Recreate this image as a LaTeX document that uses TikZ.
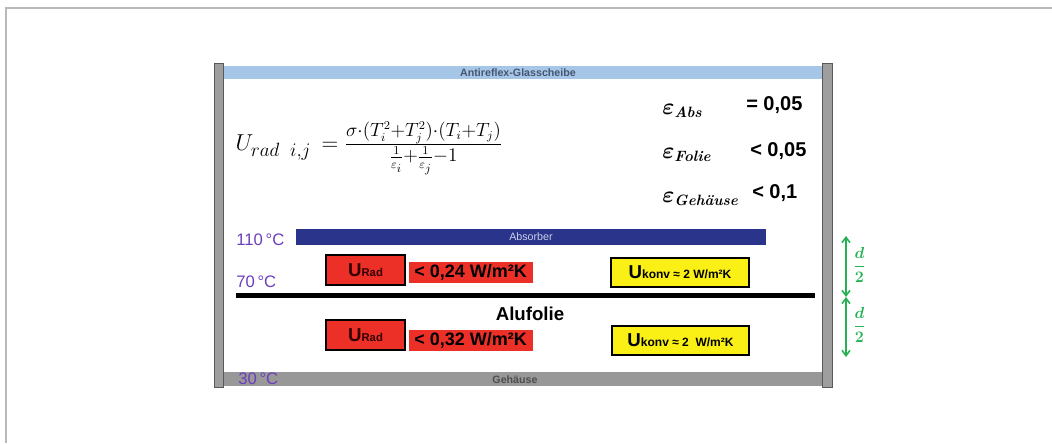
\documentclass[tikz,border=0pt]{standalone}
\usepackage{amsmath,amssymb,bm}
\usepackage{fontspec}
\newfontfamily\arial{Liberation Sans}
\usetikzlibrary{positioning,arrows.meta}

\definecolor{framegray}{RGB}{185,185,185}
\definecolor{glassblue}{RGB}{165,198,230}
\definecolor{glasstext}{RGB}{70,86,112}
\definecolor{absblue}{RGB}{42,52,138}
\definecolor{abstext}{RGB}{205,208,235}
\definecolor{housegray}{RGB}{152,152,152}
\definecolor{housetext}{RGB}{78,78,78}
\definecolor{tempviolet}{RGB}{108,62,188}
\definecolor{uradred}{RGB}{236,48,40}
\definecolor{ukonvyellow}{RGB}{250,240,22}
\definecolor{dgreen}{RGB}{38,178,84}

\begin{document}
\begin{tikzpicture}[
    x=0.75pt,y=-0.75pt,
    wall/.style={fill=black!38,draw=black!65,line width=0.7pt},
    layertext/.style={inner sep=0pt,font=\arial\bfseries\fontsize{8}{8}\selectfont},
    temp/.style={anchor=west,inner sep=0pt,text=tempviolet,font=\arial\fontsize{12.5}{13}\selectfont},
    epsname/.style={anchor=west,inner sep=0pt,font=\fontsize{16}{16}\selectfont},
    epsval/.style={anchor=west,inner sep=0pt,font=\arial\bfseries\fontsize{15}{15}\selectfont},
    radbox/.style={draw=black,line width=1.4pt,fill=uradred,minimum width=59pt,minimum height=23pt,inner sep=0pt,
      text=black!80!red,font=\arial\bfseries},
    radval/.style={fill=uradred,minimum width=93pt,minimum height=15.5pt,inner sep=0pt,
      font=\arial\bfseries\fontsize{13.5}{14}\selectfont},
    konvbox/.style={draw=black,line width=1.4pt,fill=ukonvyellow,minimum width=103pt,minimum height=22pt,inner sep=0pt,
      font=\arial\bfseries},
    halfd/.style={inner sep=0pt,text=dgreen,font=\fontsize{12}{12}\selectfont},
    dim/.style={{Straight Barb[length=4pt,width=6pt]}-{Straight Barb[length=4pt,width=6pt]},draw=dgreen,line width=1.2pt}
  ]
  \useasboundingbox (0,0) rectangle (1052,443);
  \draw[framegray,line width=1.2pt] (6,443) -- (6,8) -- (1052,8);

  % housing
  \fill[glassblue] (223,66) rectangle (822,79);
  \node[layertext,text=glasstext] (glas) at (518,73) {Antireflex-Glasscheibe};
  \fill[housegray] (223,372) rectangle (822,386);
  \node[layertext,text=housetext] (gehaeuse) at (515,380) {Gehäuse};
  \filldraw[wall] (214,63) rectangle (223,387);
  \filldraw[wall] (822,63) rectangle (832,387);

  % formula
  \node[inner sep=0pt,font=\fontsize{19}{24}\selectfont] (formel) at (369,148)
    {$U_{rad\;\; i,j}\,=\frac{\sigma\cdot(T_i^{2}+T_j^{2})\cdot(T_i+T_j)}{\frac{1}{\varepsilon_i}+\frac{1}{\varepsilon_j}-1}$};

  % emissivities
  \node[epsname] (epsAbs) at (662,111) {$\bm{\varepsilon}_{\textbf{\textit{Abs}}}$};
  \node[epsname] (epsFolie) at (662,155) {$\bm{\varepsilon}_{\textbf{\textit{Folie}}}$};
  \node[epsname] (epsGeh) at (662,199) {$\bm{\varepsilon}_{\textbf{\textit{Gehäuse}}}$};
  \node[epsval] (valAbs) at (746,105) {= 0,05};
  \node[epsval] (valFolie) at (750,151) {< 0,05};
  \node[epsval] (valGeh) at (752,193) {< 0,1};

  % absorber and foil
  \fill[absblue] (296,229) rectangle (766,245);
  \node[layertext,text=abstext,font=\arial\fontsize{8}{8}\selectfont] (absorber) at (531,237) {Absorber};
  \fill[black] (236,293) rectangle (815,298);
  \node[inner sep=0pt,font=\arial\bfseries\fontsize{14}{14}\selectfont] (folie) at (530,314) {Alufolie};

  % temperatures
  \node[temp] (t110) at (236,240) {110\,°C};
  \node[temp] (t70) at (236,282) {70\,°C};
  \node[temp] (t30) at (238,379) {30\,°C};

  % upper gap
  \node[radbox] (radA) at (365.5,270) {{\fontsize{14}{14}\selectfont U}{\fontsize{8.5}{9}\selectfont Rad}};
  \node[radval,right=2pt of radA,yshift=-2pt] (radvalA) {< 0,24 W/m²K};
  \node[konvbox] (konvA) at (680,272.5) {{\fontsize{14}{14}\selectfont U}{\fontsize{9}{9}\selectfont konv ≈ 2 W/m²K}};

  % lower gap
  \node[radbox] (radB) at (365.5,335) {{\fontsize{14}{14}\selectfont U}{\fontsize{8.5}{9}\selectfont Rad}};
  \node[radval,right=2pt of radB,yshift=-4pt] (radvalB) {< 0,32 W/m²K};
  \node[konvbox] (konvB) at (680.5,340.5) {{\fontsize{14}{14}\selectfont U}{\fontsize{9}{9}\selectfont konv ≈ 2\ \ W/m²K}};

  % gap widths
  \coordinate (d0) at (846,236);
  \coordinate (d1) at (846,297);
  \coordinate (d2) at (846,357);
  \draw[dim] (d0) -- (d1);
  \draw[dim] (d1) -- (d2);
  \node[halfd,right=5pt of d0,yshift=-22pt] (halfA) {$\bm{\dfrac{d}{2}}$};
  \node[halfd,right=5pt of d1,yshift=-21pt] (halfB) {$\bm{\dfrac{d}{2}}$};
\end{tikzpicture}
\end{document}
